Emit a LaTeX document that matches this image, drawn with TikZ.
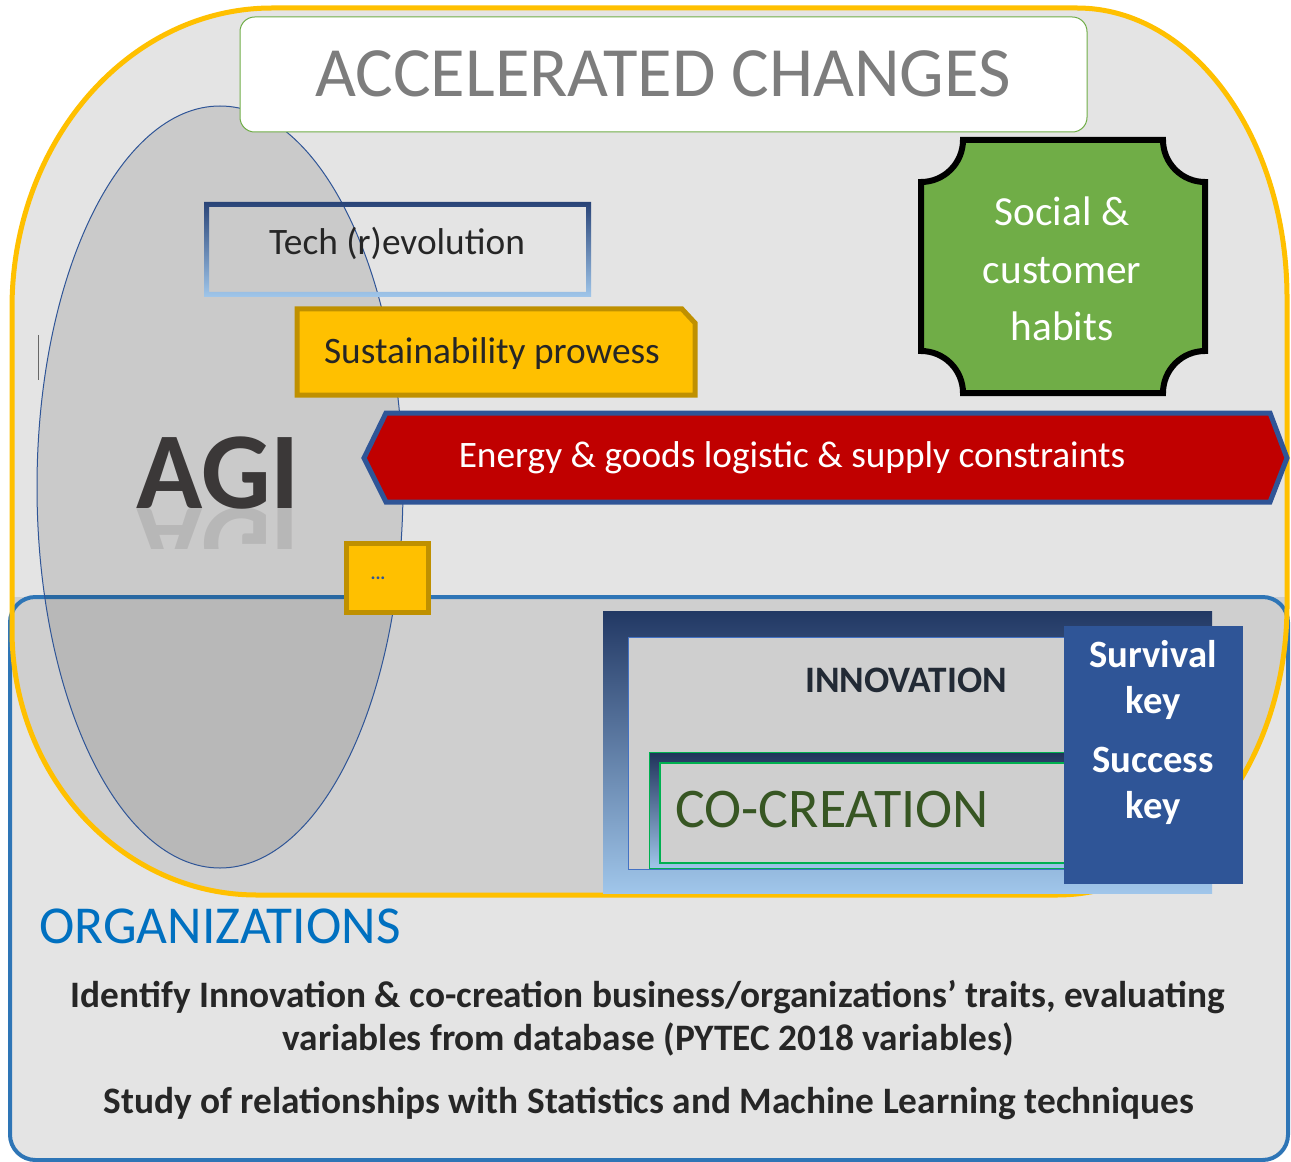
\documentclass[tikz,border=0pt]{standalone}
\usepackage{fontspec}
\setmainfont{Carlito}
\usetikzlibrary{positioning}

\definecolor{yelline}{RGB}{255,192,0}
\definecolor{panel}{RGB}{228,228,228}
\definecolor{paneldark}{RGB}{207,207,207}
\definecolor{orgline}{RGB}{46,117,182}
\definecolor{agiblue}{RGB}{47,85,151}
\definecolor{navy}{RGB}{34,56,100}
\definecolor{midblue}{RGB}{68,114,196}
\definecolor{lightblue}{RGB}{160,198,234}
\definecolor{gold}{RGB}{255,192,0}
\definecolor{goldline}{RGB}{191,144,0}
\definecolor{socgreen}{RGB}{112,173,71}
\definecolor{titlegreen}{RGB}{112,173,71}
\definecolor{banred}{RGB}{192,0,0}
\definecolor{cocgreen}{RGB}{55,86,35}
\definecolor{cocline}{RGB}{0,176,80}
\definecolor{ttlgray}{RGB}{125,125,125}
\definecolor{darktxt}{RGB}{38,38,38}
\definecolor{agitxt}{RGB}{59,56,56}
\definecolor{innotxt}{RGB}{34,42,53}
\definecolor{orgtxt}{RGB}{0,112,192}

\newcommand{\accelshape}{(12,308) arc[start angle=180,end angle=270,x radius=260,y radius=300]
  -- (1077,8) arc[start angle=270,end angle=360,x radius=210,y radius=290]
  -- (1287,605) arc[start angle=0,end angle=90,x radius=230,y radius=290]
  -- (257,895) arc[start angle=90,end angle=180,x radius=245,y radius=265] -- cycle}

\begin{document}
\begin{tikzpicture}[x=0.75pt,y=0.75pt,yscale=-1,xscale=1,
  goldbox/.style={draw=goldline,fill=gold,line width=3.75pt},
  darklabel/.style={text=darktxt,inner sep=0.75pt},
  boldlabel/.style={text=darktxt,inner sep=0.75pt,font=\bfseries\fontsize{28}{32}\selectfont}]
\useasboundingbox (0,0) rectangle (1291,1162);

%Shape: Accelerated changes area
\fill[panel] \accelshape;
%Shape: Rounded Rect organizations
\fill[panel,rounded corners=19pt] (10,597) rectangle (1288,1160);
\begin{scope}
\clip \accelshape;
\fill[paneldark] (10,597) rectangle (1288,1160);
\end{scope}
\draw[orgline,line width=3pt,rounded corners=19pt] (10,597) rectangle (1288,1160);
\draw[yelline,line width=3.75pt] \accelshape;
%Straight Lines
\draw[darktxt!70,line width=0.75pt] (38,335) -- (38,380);

%Shape: Ellipse AGI
\draw[agiblue,line width=0.75pt,fill=black,fill opacity=0.11] (220,487) ellipse [x radius=183,y radius=381];

%Shape: Rounded Rect title
\draw[titlegreen,fill=white,line width=0.75pt,rounded corners=11pt] (240,17) rectangle (1087,132);

%Shape: Rectangle tech frame
\shade[top color=navy!80!midblue,bottom color=lightblue,even odd rule] (204,202) rectangle (591,297) (209,207) rectangle (586,292);

%Shape: Snip Rectangle
\draw[goldbox] (297,309) -- (682,309) -- (695,323) -- (695,395) -- (297,395) -- cycle;

%Shape: Plaque
\draw[black,fill=socgreen,line width=4.5pt] (963,140) -- (1163,140) arc[start angle=180,end angle=90,radius=42]
  -- (1205,351) arc[start angle=270,end angle=180,radius=42]
  -- (963,393) arc[start angle=0,end angle=-90,radius=42]
  -- (921,182) arc[start angle=90,end angle=0,radius=42] -- cycle;

%Shape: Banner
\draw[agiblue,fill=banred,line width=3.75pt] (364,458) -- (386,413) -- (1270,413) -- (1287,458) -- (1270,502) -- (386,502) -- cycle;

%Shape: Square
\draw[goldbox] (346,543) rectangle (428,612);

%Shape: Rectangle innovation frame
\shade[top color=navy,middle color=midblue!85!navy,bottom color=lightblue] (603,611) rectangle (1212,893);
\draw[midblue,fill=paneldark,line width=0.75pt] (628,637) rectangle (1187,869);
%Shape: Rectangle co-creation frame
\shade[top color=navy!90!black,middle color=midblue,bottom color=lightblue] (649,752) rectangle (1120,868);
\draw[cocline,line width=0.75pt] (649,752) rectangle (1120,868);
\draw[cocline,fill=paneldark,line width=1.5pt] (660,763) rectangle (1120,863);
%Shape: Rectangle keys
\fill[agiblue] (1064,626) rectangle (1243,884);

% Text Node
\draw (663,74) node (title) [inner sep=0.75pt,text=ttlgray,font=\fontsize{53}{60}\selectfont] {ACCELERATED CHANGES};
% Text Node
\draw (397,243) node (tech) [darklabel,font=\fontsize{28}{32}\selectfont] {Tech (r)evolution};
% Text Node
\draw (492,354) node (sust) [darklabel,font=\fontsize{28}{32}\selectfont] {Sustainability prowess};
% Text Node
\draw (1062,269) node (social) [inner sep=0.75pt,align=center,text=white,font=\fontsize{31}{43}\selectfont] {Social \&\\customer\\habits};
% Text Node
\draw (792,458) node (energy) [inner sep=0.75pt,text=white,font=\fontsize{28}{32}\selectfont] {Energy \& goods logistic \& supply constraints};
% Text Node
\draw (218,508) node (agi) [anchor=base,inner sep=0pt,text=agitxt,font=\bfseries\fontsize{82}{90}\selectfont] {AGI};
\begin{scope}
\clip (120,508) rectangle (320,548);
\draw (218,508) node (agirefl) [anchor=base,yscale=-1,inner sep=0pt,text=agitxt,opacity=0.13,font=\bfseries\fontsize{82}{90}\selectfont] {AGI};
\end{scope}
% Text Node
\draw (378,578) node (more) [inner sep=0.75pt,text=agiblue,font=\bfseries\fontsize{14}{14}\selectfont] {...};
% Text Node
\draw (906,680) node (inno) [inner sep=0.75pt,text=innotxt,font=\bfseries\fontsize{28}{32}\selectfont] {INNOVATION};
% Text Node
\draw (832,810) node (cocreation) [inner sep=0.75pt,text=cocgreen,font=\fontsize{42}{48}\selectfont] {CO-CREATION};
% Text Node
\draw (1153,680) node (survival) [inner sep=0.75pt,align=center,text=white,font=\bfseries\fontsize{29}{34}\selectfont] {Survival\\key};
% Text Node
\draw (1153,786) node (success) [inner sep=0.75pt,align=center,text=white,font=\bfseries\fontsize{29}{34}\selectfont] {Success\\key};
% Text Node
\draw (38,926) node (org) [anchor=west,inner sep=0.75pt,text=orgtxt,font=\fontsize{40}{44}\selectfont] {ORGANIZATIONS};
% Text Node
\draw (648,1018) node (traits) [boldlabel,align=center] {Identify Innovation \& co-creation business/organizations’ traits, evaluating\\variables from database (PYTEC 2018 variables)};
% Text Node
\draw (649,1104) node (study) [boldlabel] {Study of relationships with Statistics and Machine Learning techniques};
\end{tikzpicture}
\end{document}
